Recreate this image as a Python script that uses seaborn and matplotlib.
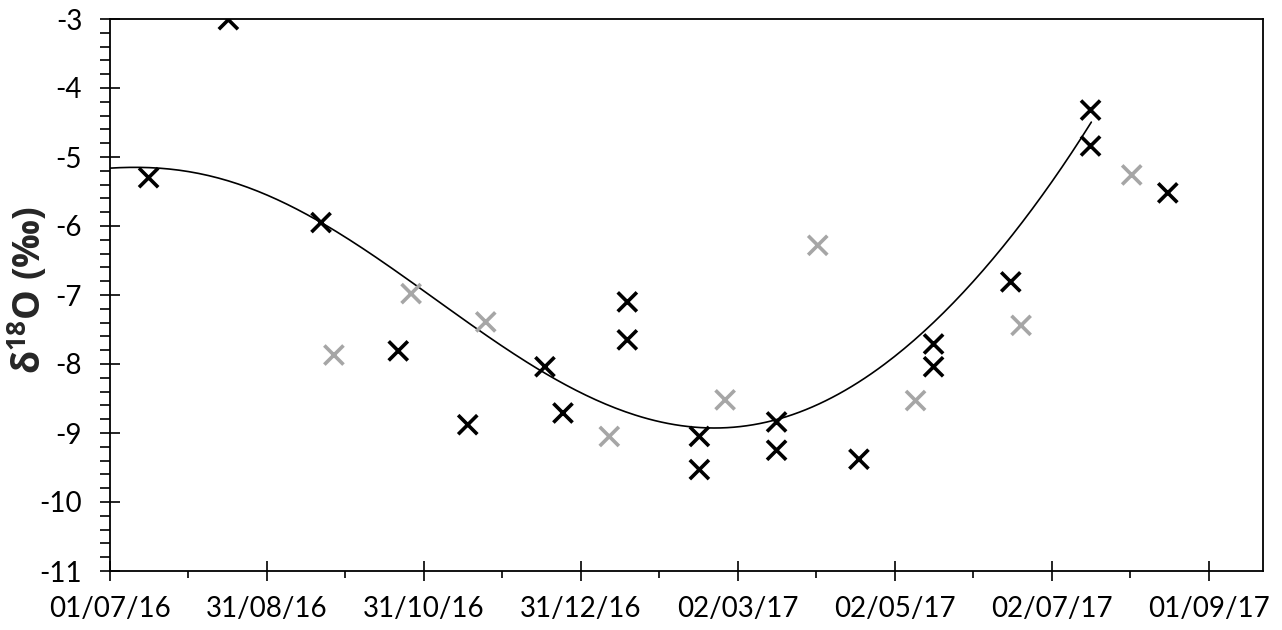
import numpy as np
import pandas as pd
import matplotlib
matplotlib.use("Agg")
import matplotlib.pyplot as plt
import matplotlib.dates as mdates
from matplotlib.ticker import FixedLocator, MultipleLocator, FuncFormatter
import seaborn as sns

# Sampling dates and d18O values (permil) for the two series
black_dates = ["2016-07-16", "2016-08-16", "2016-09-21", "2016-10-21", "2016-11-17",
               "2016-12-17", "2016-12-24", "2017-01-18", "2017-01-18", "2017-02-15",
               "2017-02-15", "2017-03-17", "2017-03-17", "2017-04-18", "2017-05-17",
               "2017-05-17", "2017-06-16", "2017-07-17", "2017-07-17", "2017-08-16"]
black_d18o = [-5.30, -3.01, -5.95, -7.81, -8.88,
              -8.04, -8.71, -7.10, -7.65, -9.05,
              -9.53, -8.84, -9.25, -9.38, -7.71,
              -8.04, -6.81, -4.32, -4.84, -5.52]

grey_dates = ["2016-09-26", "2016-10-26", "2016-11-24", "2017-01-11", "2017-02-25",
              "2017-04-02", "2017-05-10", "2017-06-20", "2017-08-02"]
grey_d18o = [-7.87, -6.98, -7.39, -9.05, -8.52,
             -6.28, -8.53, -7.44, -5.26]

# Polynomial trend line: values at days after 01/07/16
trend_days = [0, 14.4, 81.6, 112.6, 143.7, 169.6, 195.4, 221.4,
              239.5, 259.0, 291.3, 314.6, 337.9, 363.8, 381.3]
trend_d18o = [-5.17, -5.14, -5.94, -6.71, -7.53, -8.11, -8.62, -8.89,
              -8.94, -8.80, -8.33, -7.51, -6.64, -5.58, -4.45]

axis_start = "2016-07-01"
axis_days = 448
tick_step_days = 61
y_min, y_max = -11, -3

sns.set_theme(style="white")
plt.rcParams["font.family"] = ["Lato", "DejaVu Sans"]
plt.rcParams["axes.unicode_minus"] = False
plt.rcParams["mathtext.fontset"] = "custom"
plt.rcParams["mathtext.bf"] = "Open Sans:bold"
plt.rcParams["mathtext.rm"] = "Open Sans"

df = pd.concat([
    pd.DataFrame({"date": pd.to_datetime(black_dates), "d18O": black_d18o, "group": "black"}),
    pd.DataFrame({"date": pd.to_datetime(grey_dates), "d18O": grey_d18o, "group": "grey"}),
], ignore_index=True)

fig = plt.figure(figsize=(12.82, 6.30), dpi=100)
ax = fig.add_axes([110 / 1282, 59 / 630, 1153 / 1282, 552 / 630])

start = pd.Timestamp(axis_start)

# trend curve
tx = np.array(trend_days, dtype=float)
coef = np.polyfit(tx / 100.0, np.array(trend_d18o), 6)
grid = np.linspace(tx.min(), tx.max(), 300)
trend_df = pd.DataFrame({
    "date": start + pd.to_timedelta(grid, unit="D"),
    "d18O": np.polyval(coef, grid / 100.0),
})
sns.lineplot(data=trend_df, x="date", y="d18O", color="black", linewidth=1.2,
             ax=ax, zorder=2)

sns.scatterplot(data=df, x="date", y="d18O", hue="group",
                palette={"black": "#000000", "grey": "#A6A6A6"},
                marker="x", s=190, linewidth=2.6, legend=False, ax=ax, zorder=3)

x0 = mdates.date2num(start)
ax.set_xlim(x0, x0 + axis_days)
ax.set_ylim(y_min, y_max)

major = [x0 + k * tick_step_days for k in range(8)]
minor = [x0 + k * tick_step_days + tick_step_days / 2 for k in range(8)]
ax.xaxis.set_major_locator(FixedLocator(major))
ax.xaxis.set_minor_locator(FixedLocator(minor))
ax.xaxis.set_major_formatter(mdates.DateFormatter("%d/%m/%y"))
ax.yaxis.set_major_locator(MultipleLocator(1))
ax.yaxis.set_minor_locator(MultipleLocator(0.2))
ax.yaxis.set_major_formatter(FuncFormatter(lambda v, p: f"{int(round(v))}"))

for side in ["left", "right", "top", "bottom"]:
    ax.spines[side].set_visible(True)
    ax.spines[side].set_color("black")
    ax.spines[side].set_linewidth(1.3)

ax.tick_params(axis="both", which="major", direction="inout", length=14, width=1.2,
               color="black", labelsize=20, labelcolor="black",
               bottom=True, left=True, top=False, right=False)
ax.tick_params(axis="x", which="major", pad=11)
ax.tick_params(axis="y", which="major", pad=13)
ax.tick_params(axis="x", which="minor", direction="out", length=5, width=1.2,
               color="black", bottom=True, top=False)
ax.tick_params(axis="y", which="minor", direction="out", length=7, width=1.2,
               color="black", left=True, right=False)

ax.set_xlabel("")
ax.set_ylabel(r"δ$^{\mathbf{18}}$O (‰)", fontsize=27, fontweight="bold",
              family=["Open Sans", "DejaVu Sans"])
ax.yaxis.set_label_coords(-0.052, 0.51)

fig.savefig("out.png", dpi=100, facecolor="white")
